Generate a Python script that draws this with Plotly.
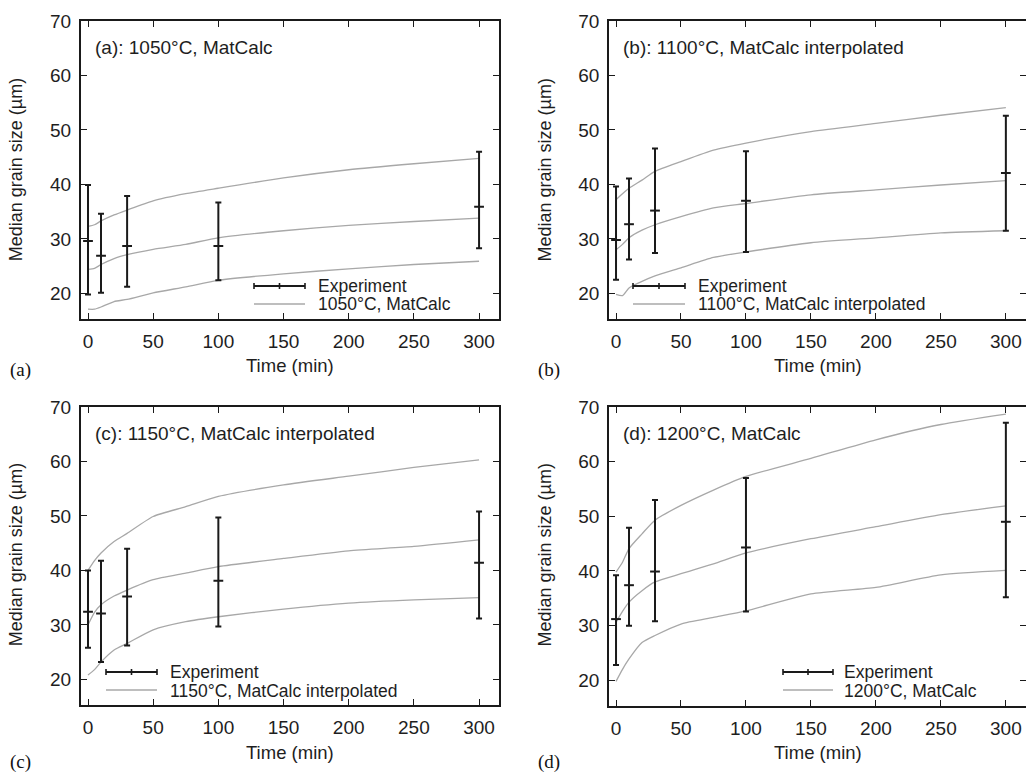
import plotly.graph_objects as go

W, H = 1026, 773

# ---------------- data ----------------
exp_time = [0, 10, 30, 100, 300]

exp_a_mean = [29.6, 26.9, 28.7, 28.7, 35.9]
exp_a_low = [19.8, 20.1, 21.2, 22.4, 28.3]
exp_a_high = [39.9, 34.6, 37.9, 36.7, 46.0]

exp_b_mean = [29.8, 32.7, 35.2, 37.0, 42.1]
exp_b_low = [22.5, 26.2, 27.4, 27.6, 31.5]
exp_b_high = [39.6, 41.1, 46.6, 46.1, 52.6]

exp_c_mean = [32.4, 32.1, 35.2, 38.1, 41.4]
exp_c_low = [25.8, 23.2, 26.2, 29.7, 31.2]
exp_c_high = [40.0, 41.8, 44.0, 49.7, 50.8]

exp_d_mean = [31.2, 37.4, 39.9, 44.3, 49.0]
exp_d_low = [22.8, 30.0, 30.8, 32.6, 35.2]
exp_d_high = [39.2, 47.9, 53.0, 57.0, 67.1]

model_time = [0, 5, 10, 20, 30, 50, 75, 100, 150, 200, 250, 300]

model_a_upper = [32.3, 32.6, 33.3, 34.4, 35.3, 37.0, 38.3, 39.3, 41.2, 42.7, 43.8, 44.8]
model_a_median = [24.4, 24.6, 25.3, 26.4, 27.1, 28.1, 29.0, 30.2, 31.5, 32.5, 33.2, 33.8]
model_a_lower = [17.1, 17.1, 17.5, 18.5, 18.9, 20.1, 21.2, 22.4, 23.6, 24.5, 25.3, 25.9]

model_b_upper = [37.2, 38.3, 39.3, 40.8, 42.4, 44.2, 46.3, 47.6, 49.7, 51.2, 52.7, 54.1]
model_b_median = [28.0, 29.0, 30.2, 31.6, 32.6, 34.1, 35.7, 36.5, 38.1, 39.0, 39.9, 40.7]
model_b_lower = [19.8, 19.6, 21.0, 22.2, 23.2, 24.7, 26.6, 27.6, 29.3, 30.2, 31.1, 31.5]

model_c_upper = [40.0, 41.8, 43.2, 45.3, 46.8, 49.9, 51.7, 53.6, 55.7, 57.3, 58.9, 60.3]
model_c_median = [30.0, 32.3, 33.7, 35.3, 36.4, 38.3, 39.5, 40.7, 42.2, 43.6, 44.4, 45.6]
model_c_lower = [20.8, 21.8, 23.2, 25.4, 26.6, 29.1, 30.6, 31.5, 32.9, 34.0, 34.6, 35.0]

model_d_upper = [39.8, 41.6, 44.1, 46.8, 49.3, 52.0, 54.8, 57.3, 60.6, 64.0, 66.8, 68.7]
model_d_median = [30.6, 32.6, 34.3, 36.4, 38.0, 39.5, 41.3, 43.3, 45.9, 48.1, 50.3, 51.9]
model_d_lower = [19.8, 22.0, 23.9, 26.9, 28.2, 30.3, 31.5, 32.7, 35.8, 37.0, 39.3, 40.1]

x_ticks = [0, 50, 100, 150, 200, 250, 300]
y_ticks = [20, 30, 40, 50, 60, 70]

panel_titles = ["(a): 1050°C, MatCalc", "(b): 1100°C, MatCalc interpolated",
                "(c): 1150°C, MatCalc interpolated", "(d): 1200°C, MatCalc"]
model_names = ["1050°C, MatCalc", "1100°C, MatCalc interpolated",
               "1150°C, MatCalc interpolated", "1200°C, MatCalc"]
panel_letters = ["(a)", "(b)", "(c)", "(d)"]
exp_name = "Experiment"
x_title = "Time (min)"
y_title = "Median grain size (µm)"

# ---------------- layout helpers ----------------
def px(x):
    return x / W

def py(y):
    return 1 - y / H

SANS = "Liberation Sans, Arial, Helvetica, sans-serif"
SERIF = "Liberation Serif, Times New Roman, serif"
DARK = "#1a1a1a"
GREY = "#a8a8a8"
TXT = "#1e1e1e"

panels = [
    dict(l=80.7, r=499.0, t=21.0, b=319.0, xr=[-5.6, 315.3],
         title_y=47, xt_y=365, yt_y=170, let_y=370,
         exp=(exp_a_mean, exp_a_low, exp_a_high),
         model=(model_a_upper, model_a_median, model_a_lower),
         leg=(254, 305, 286, 304, 317)),
    dict(l=609.0, r=1027.0, t=21.0, b=319.0, xr=[-5.4, 315.5],
         title_y=47, xt_y=365, yt_y=170, let_y=370,
         exp=(exp_b_mean, exp_b_low, exp_b_high),
         model=(model_b_upper, model_b_median, model_b_lower),
         leg=(633, 685, 286, 304, 697)),
    dict(l=80.7, r=499.0, t=407.0, b=705.0, xr=[-5.6, 315.3],
         title_y=433, xt_y=752, yt_y=555, let_y=762,
         exp=(exp_c_mean, exp_c_low, exp_c_high),
         model=(model_c_upper, model_c_median, model_c_lower),
         leg=(106, 157, 672, 690, 169)),
    dict(l=609.0, r=1027.0, t=407.0, b=706.0, xr=[-5.4, 315.5],
         title_y=433, xt_y=752, yt_y=555, let_y=762,
         exp=(exp_d_mean, exp_d_low, exp_d_high),
         model=(model_d_upper, model_d_median, model_d_lower),
         leg=(783, 833, 672, 690, 843)),
]

fig = go.Figure()
shapes = []
annotations = []

for i, p in enumerate(panels):
    k = "" if i == 0 else str(i + 1)
    xa, ya = "x" + k, "y" + k
    for curve in p["model"]:
        fig.add_trace(go.Scatter(
            x=model_time, y=curve, mode="lines", xaxis=xa, yaxis=ya,
            line=dict(color=GREY, width=1.3, shape="spline", smoothing=0.6),
            showlegend=False, hoverinfo="skip"))
    mean, low, high = p["exp"]
    fig.add_trace(go.Scatter(
        x=exp_time, y=mean, mode="markers", xaxis=xa, yaxis=ya,
        marker=dict(symbol="line-ew", size=7, color=DARK,
                    line=dict(width=2, color=DARK)),
        error_y=dict(type="data", symmetric=False,
                     array=[h - m for h, m in zip(high, mean)],
                     arrayminus=[m - l for m, l in zip(mean, low)],
                     thickness=2, width=3, color=DARK),
        showlegend=False))

    axis_common = dict(showline=True, linecolor=DARK, linewidth=1.6,
                       mirror="ticks", ticks="inside", ticklen=6,
                       tickwidth=1.3, tickcolor=DARK, showgrid=False,
                       zeroline=False, automargin=False,
                       tickfont=dict(family=SANS, size=19, color=TXT))
    fig.update_layout({
        "xaxis" + k: dict(domain=[px(p["l"]), min(px(p["r"]), 1.0)],
                          range=p["xr"], tickvals=x_ticks, anchor=ya,
                          ticklabelstandoff=4, **axis_common),
        "yaxis" + k: dict(domain=[py(p["b"]), py(p["t"])],
                          range=[15.3, 70], tickvals=y_ticks, anchor=xa,
                          ticklabelstandoff=4, **axis_common),
    })

    annotations.append(dict(text=panel_titles[i], xref="paper", yref="paper",
                            x=px(p["l"] + 12), y=py(p["title_y"]),
                            xanchor="left", yanchor="middle", showarrow=False,
                            font=dict(family=SANS, size=19, color=TXT)))
    cx = p["l"] + 209
    annotations.append(dict(text=x_title, xref="paper", yref="paper",
                            x=px(cx), y=py(p["xt_y"]),
                            xanchor="center", yanchor="middle", showarrow=False,
                            font=dict(family=SANS, size=18.5, color=TXT)))
    annotations.append(dict(text=y_title, xref="paper", yref="paper",
                            x=px(p["l"] - 64.5), y=py(p["yt_y"]),
                            xanchor="center", yanchor="middle", showarrow=False,
                            textangle=-90,
                            font=dict(family=SANS, size=18, color=TXT)))
    annotations.append(dict(text=panel_letters[i], xref="paper", yref="paper",
                            x=px(p["l"] - 60.5), y=py(p["let_y"]),
                            xanchor="center", yanchor="middle", showarrow=False,
                            font=dict(family=SERIF, size=19, color="#111")))

    x0, x1, y1, y2, tx = p["leg"]
    xm = (x0 + x1) / 2
    shapes.append(dict(type="line", xref="paper", yref="paper",
                       x0=px(x0), x1=px(x1), y0=py(y1), y1=py(y1),
                       line=dict(color=DARK, width=2)))
    for xx in (x0, xm, x1):
        shapes.append(dict(type="line", xref="paper", yref="paper",
                           x0=px(xx), x1=px(xx), y0=py(y1 - 3), y1=py(y1 + 3),
                           line=dict(color=DARK, width=1.6)))
    shapes.append(dict(type="line", xref="paper", yref="paper",
                       x0=px(x0), x1=px(x1), y0=py(y2), y1=py(y2),
                       line=dict(color=GREY, width=1.3)))
    annotations.append(dict(text=exp_name, xref="paper", yref="paper",
                            x=px(tx), y=py(y1 - 0.5), xanchor="left", yanchor="middle",
                            showarrow=False, borderpad=0,
                            font=dict(family=SANS, size=17.5, color=TXT)))
    annotations.append(dict(text=model_names[i], xref="paper", yref="paper",
                            x=px(tx), y=py(y2 + 0.5), xanchor="left", yanchor="middle",
                            showarrow=False, borderpad=0,
                            font=dict(family=SANS, size=17.5, color=TXT)))

fig.update_layout(width=W, height=H, autosize=False,
                  margin=dict(l=0, r=0, t=0, b=0, pad=0, autoexpand=False),
                  paper_bgcolor="white", plot_bgcolor="white",
                  showlegend=False, shapes=shapes, annotations=annotations)

fig.write_html("out.html", config={"displayModeBar": False},
               post_script="document.documentElement.style.margin='0';"
                           "document.body.style.margin='0';"
                           "document.body.style.overflow='hidden';"
                           "var g=document.getElementById('{plot_id}');"
                           "g.style.position='fixed';g.style.top='0';g.style.left='0';")
